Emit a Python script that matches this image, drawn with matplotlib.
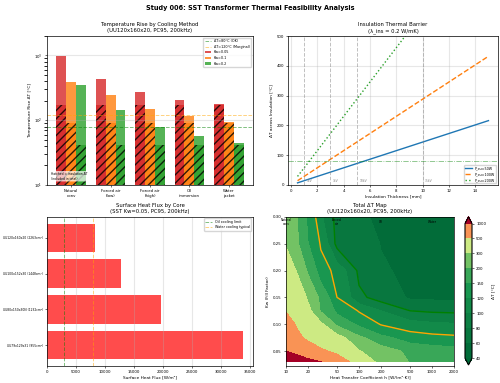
#!/usr/bin/env python3
"""
Study 006 - SST transformer thermal feasibility (4 panels)
"""

import numpy as np
import matplotlib
matplotlib.use('Agg')
import matplotlib.pyplot as plt

# --- Panel 1 : temperature rise by cooling method (UU120x160x20) ---
methods = ['Natural\nconv', 'Forced air\n(low)', 'Forced air\n(high)', 'Oil\nimmersion', 'Water\njacket']
dt_kw005 = [990, 440, 272, 208, 178]
dt_kw01 = [390, 243, 148, 115, 95]
dt_kw02 = [345, 143, 79, 57, 44]
ins_dt = [170, 91, 41]          # insulation part for Kw = 0.05 / 0.1 / 0.2
kw_labels = ['Kw=0.05', 'Kw=0.1', 'Kw=0.2']

# --- Panel 2 : insulation thermal barrier ---
thickness = [0.5, 1, 3, 5, 10, 15]
dt_p50 = [7.2, 14.4, 43.2, 72, 144, 216]
dt_p100 = [14.4, 28.8, 86.4, 144, 288, 432]
dt_p200 = [28.8, 57.6, 172.8, 288, 576, 864]
volt_thick = [1, 3, 5, 10]
volt_labels = ['1kV', '3kV', '10kV', '35kV']

# --- Panel 3 : surface heat flux by core ---
cores = ['UU79x129x31 (955cm²)', 'UU80x150x30N (1232cm²)',
         'UU100x152x30 (1448cm²)', 'UU120x160x20 (2263cm²)']
heat_flux = [33800, 19600, 12800, 8300]

# --- Panel 4 : total dT map ---
h_vals = [10, 15, 20, 30, 50, 100, 200, 500, 1000, 2000]
kw_vals = [0.03, 0.05, 0.075, 0.10, 0.125, 0.15, 0.20, 0.25, 0.30]
dt_map = [
    [1500, 1300, 1150, 1010, 620, 380, 260, 195, 185, 178],
    [990, 800, 640, 530, 450, 305, 230, 180, 168, 162],
    [780, 540, 450, 400, 340, 210, 158, 130, 126, 124],
    [600, 450, 390, 320, 180, 140, 118, 108, 104, 102],
    [490, 400, 330, 190, 140, 118, 100, 80, 77, 76],
    [450, 365, 285, 175, 120, 84, 70, 57, 56, 55],
    [370, 275, 185, 130, 112, 75, 61.5, 56, 54, 53],
    [290, 197, 151, 117, 73, 66, 59.5, 55, 53, 52],
    [260, 190, 140, 103, 72, 62, 57, 52, 50, 49],
]
levels = [40, 60, 80, 100, 120, 150, 200, 300, 500, 1000]
zone_h = [10, 50, 200, 1000]
zone_labels = ['Natural\nconv', 'Forced\nair', 'Oil', 'Water']

TITLE_FS = 3.8
LABEL_FS = 3.1
TICK_FS = 2.8
LEG_FS = 2.4
SMALL_FS = 2.2

fig = plt.figure(figsize=(5.0, 3.83), dpi=100)
fig.suptitle('Study 006: SST Transformer Thermal Feasibility Analysis',
             fontsize=4.7, fontweight='bold', y=0.987)

ax1 = fig.add_axes([0.094, 0.517, 0.412, 0.389])
ax2 = fig.add_axes([0.576, 0.517, 0.42, 0.389])
ax3 = fig.add_axes([0.094, 0.044, 0.412, 0.39])
ax4 = fig.add_axes([0.572, 0.044, 0.336, 0.39])
cax = fig.add_axes([0.93, 0.047, 0.014, 0.387])

# Panel 1
x = np.arange(len(methods))
w = 0.25
colors = ['#d62728', '#ff7f0e', '#2ca02c']
ax1.axhline(80, color='green', ls='--', lw=0.7, alpha=0.5, label='ΔT=80°C (OK)')
ax1.axhline(120, color='orange', ls='--', lw=0.7, alpha=0.5, label='ΔT=120°C (Marginal)')
for i, (vals, c, lab) in enumerate(zip([dt_kw005, dt_kw01, dt_kw02], colors, kw_labels)):
    pos = x + (i - 1) * w
    ax1.bar(pos, vals, w, color=c, alpha=0.8, label=lab)
    ax1.bar(pos, [ins_dt[i]] * len(methods), w, color=c, alpha=0.8,
            hatch='////', edgecolor='black', linewidth=0)
ax1.set_yscale('log')
ax1.set_ylim(10, 2000)
ax1.set_xticks(x)
ax1.set_xticklabels(methods, fontsize=TICK_FS)
ax1.set_ylabel('Temperature Rise ΔT [°C]', fontsize=LABEL_FS, labelpad=2)
ax1.set_title('Temperature Rise by Cooling Method\n(UU120x160x20, PC95, 200kHz)',
              fontsize=TITLE_FS, pad=3)
ax1.legend(fontsize=LEG_FS, loc='upper right')
ax1.grid(True, alpha=0.3, axis='y')
ax1.text(0.02, 0.03, 'Hatched = insulation ΔT\n(included in total)', transform=ax1.transAxes,
         fontsize=SMALL_FS, va='bottom',
         bbox=dict(boxstyle='round', facecolor='white', alpha=0.7, lw=0))

# Panel 2
ax2.plot(thickness, dt_p50, '-', lw=1.0, label='P_cu=50W')
ax2.plot(thickness, dt_p100, '--', lw=1.0, label='P_cu=100W')
ax2.plot(thickness, dt_p200, ':', lw=1.0, label='P_cu=200W')
for t, v in zip(volt_thick, volt_labels):
    ax2.axvline(t, color='gray', ls='--', lw=0.7, alpha=0.5)
    ax2.text(t + 0.2, 5, v, fontsize=SMALL_FS, color='gray', va='bottom')
ax2.axhline(80, color='green', ls='-.', lw=0.6, alpha=0.5)
ax2.set_ylim(0, 500)
ax2.set_xlabel('Insulation Thickness [mm]', fontsize=LABEL_FS, labelpad=1)
ax2.set_ylabel('ΔT across Insulation [°C]', fontsize=LABEL_FS, labelpad=2)
ax2.set_title('Insulation Thermal Barrier\n(λ_ins = 0.2 W/mK)', fontsize=TITLE_FS, pad=3)
ax2.legend(fontsize=LEG_FS, loc='lower right')
ax2.grid(True, alpha=0.3)

# Panel 3
y = np.arange(len(cores))
ax3.barh(y, heat_flux, color='red', alpha=0.7)
ax3.axvline(3000, color='green', ls='--', lw=0.7, alpha=0.5, label='Oil cooling limit')
ax3.axvline(8000, color='orange', ls='--', lw=0.7, alpha=0.5, label='Water cooling typical')
ax3.set_yticks(y)
ax3.set_yticklabels(cores)
ax3.set_xlabel('Surface Heat Flux [W/m²]', fontsize=LABEL_FS, labelpad=1)
ax3.set_title('Surface Heat Flux by Core\n(SST Kw=0.05, PC95, 200kHz)', fontsize=TITLE_FS, pad=3)
ax3.legend(fontsize=LEG_FS, loc='upper right')
ax3.grid(True, alpha=0.3, axis='x')

# Panel 4
H, K = np.meshgrid(h_vals, kw_vals)
Z = np.array(dt_map)
cf = ax4.contourf(H, K, Z, levels=levels, cmap='RdYlGn_r', extend='both')
ax4.contour(H, K, Z, levels=[80], colors='green', linewidths=1.0)
ax4.contour(H, K, Z, levels=[120], colors='orange', linewidths=1.0)
ax4.set_xscale('log')
ax4.set_xlim(10, 2000)
ax4.set_ylim(0.022, 0.30)
ax4.set_xticks([10, 20, 50, 100, 200, 500, 1000, 2000])
ax4.set_xticklabels(['10', '20', '50', '100', '200', '500', '1000', '2000'])
ax4.minorticks_off()
for hz, lab in zip(zone_h, zone_labels):
    ax4.text(hz, 0.29, lab, fontsize=SMALL_FS, ha='center', va='center')
ax4.set_xlabel('Heat Transfer Coefficient h [W/(m²·K)]', fontsize=LABEL_FS, labelpad=1)
ax4.set_ylabel('Kw (Fill Factor)', fontsize=LABEL_FS, labelpad=2)
ax4.set_title('Total ΔT Map\n(UU120x160x20, PC95, 200kHz)', fontsize=TITLE_FS, pad=3)
cb = fig.colorbar(cf, cax=cax)
cb.set_label('ΔT [°C]', fontsize=LABEL_FS)
cb.ax.tick_params(labelsize=TICK_FS, length=1.5, width=0.4, pad=1.5)

for ax in (ax1, ax2, ax3, ax4):
    ax.tick_params(labelsize=TICK_FS, length=1.5, width=0.4, pad=1.5)
    for s in ax.spines.values():
        s.set_linewidth(0.5)
ax3.tick_params(axis='y', labelsize=SMALL_FS)

fig.savefig('out.png', dpi=100)
